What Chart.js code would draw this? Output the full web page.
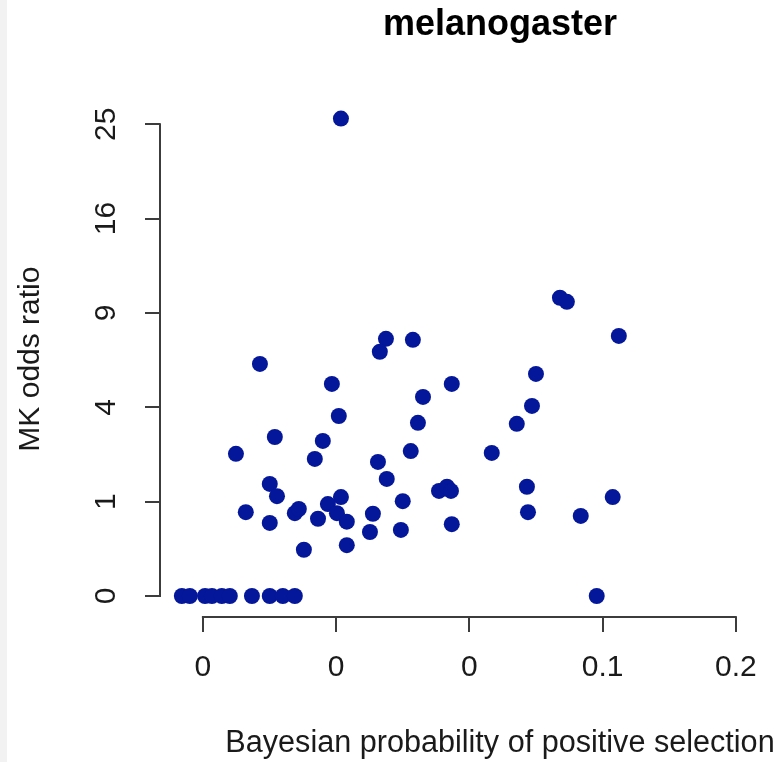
<!DOCTYPE html>
<html>
<head>
<meta charset="utf-8">
<script src="https://cdn.jsdelivr.net/npm/chart.js@4.4.1/dist/chart.umd.min.js"></script>
<style>
  html, body { margin: 0; padding: 0; overflow: hidden; }
  body { width: 783px; height: 762px; background: linear-gradient(to right, #f2f2f2 0, #f2f2f2 7px, #fff 7px); }
  canvas { display: block; }
</style>
</head>
<body>
<canvas id="mkChart" width="1000" height="762"></canvas>
<script>
// MK odds ratio vs Bayesian probability (melanogaster)
const probability = [
  0.0518, 0.1340, 0.1366, 0.1561, 0.0687, 0.0664, 0.0788, 0.0214, 0.0484, 0.0934,
  0.1250, 0.0826, 0.1235, 0.0510, 0.0807, 0.1178, 0.0270, 0.0450, 0.0124, 0.0420,
  0.0780, 0.1084, 0.0657, 0.0251, 0.0690, 0.0278, 0.0518, 0.1216, 0.0886, 0.0916,
  0.0931, 0.0161, 0.0345, 0.0360, 0.0469, 0.0503, 0.0750, 0.1538, 0.0251, 0.0432,
  0.0540, 0.0638, 0.1220, 0.1418, 0.0934, 0.0627, 0.0743, 0.0379, 0.0540,
  -0.0079, -0.0049, 0.0008, 0.0034, 0.0071, 0.0101, 0.0184, 0.0251, 0.0300, 0.0345,
  0.1478
];
const oddsRatio = [
  25.6, 9.99, 9.72, 7.60, 7.43, 6.70, 7.37, 6.05, 5.05, 5.05,
  5.54, 4.45, 4.06, 3.64, 3.37, 3.33, 2.84, 2.70, 2.27, 2.11,
  2.36, 2.30, 2.02, 1.41, 1.54, 1.12, 1.10, 1.34, 1.24, 1.34,
  1.24, 0.79, 0.77, 0.85, 0.95, 0.77, 1.01, 1.10, 0.60, 0.67,
  0.62, 0.76, 0.79, 0.72, 0.58, 0.46, 0.49, 0.24, 0.29,
  0, 0, 0, 0, 0, 0, 0, 0, 0, 0,
  0
];
const xTickValues = [0, 0.05, 0.1, 0.15, 0.2];
const xTickLabels = ['0', '0', '0', '0.1', '0.2'];
const yTickLabels = [0, 1, 4, 9, 16, 25];

const font = '"Liberation Sans", Arial, Helvetica, sans-serif';
const ink = '#1a1a1a';
const axisGrey = '#3c3c3c';

// y is drawn on a square-root scale, like the original plot
const points = probability.map((p, i) => ({ x: p, y: Math.sqrt(oddsRatio[i]) }));

// R style axes: the line only runs from the first to the last tick
const axisLines = {
  id: 'axisLines',
  afterDraw(chart) {
    const { ctx, chartArea, scales } = chart;
    const xs = scales.x, ys = scales.y;
    ctx.save();
    ctx.strokeStyle = axisGrey;
    ctx.lineWidth = 2;
    ctx.beginPath();
    ctx.moveTo(xs.getPixelForValue(xTickValues[0]) - 1, chartArea.bottom);
    ctx.lineTo(xs.getPixelForValue(xTickValues[xTickValues.length - 1]) + 1, chartArea.bottom);
    ctx.moveTo(chartArea.left, ys.getPixelForValue(Math.sqrt(yTickLabels[0])) + 1);
    ctx.lineTo(chartArea.left, ys.getPixelForValue(Math.sqrt(yTickLabels[yTickLabels.length - 1])) - 1);
    ctx.stroke();
    ctx.restore();
  }
};

const ctx = document.getElementById('mkChart').getContext('2d');
new Chart(ctx, {
  type: 'scatter',
  data: {
    datasets: [{
      data: points,
      backgroundColor: '#04179a',
      borderWidth: 0,
      pointRadius: 8,
      pointHoverRadius: 8
    }]
  },
  options: {
    responsive: false,
    animation: false,
    layout: { padding: 0 },
    plugins: {
      legend: { display: false },
      tooltip: { enabled: false },
      title: {
        display: true,
        text: 'melanogaster',
        color: '#000',
        font: { family: font, size: 36, weight: 'bold', lineHeight: 1.2 },
        padding: { top: 3, bottom: 55 }
      }
    },
    scales: {
      x: {
        type: 'linear',
        min: -0.0161,
        max: 0.2391,
        afterBuildTicks: s => { s.ticks = xTickValues.map(v => ({ value: v })); },
        afterFit: s => { s.height = 145; },
        grid: { drawOnChartArea: false, drawTicks: true, tickLength: 15, lineWidth: 2, color: axisGrey },
        border: { display: false },
        ticks: {
          color: ink,
          font: { family: font, size: 30 },
          padding: 18,
          maxRotation: 0,
          autoSkip: false,
          callback: (v, i) => xTickLabels[i]
        },
        title: {
          display: true,
          text: 'Bayesian probability of positive selection',
          color: ink,
          font: { family: font, size: 30.6, lineHeight: 1.2 },
          padding: { top: 0, bottom: 0 }
        }
      },
      y: {
        type: 'linear',
        min: -0.2225,
        max: 5.244,
        afterBuildTicks: s => { s.ticks = yTickLabels.map(v => ({ value: Math.sqrt(v) })); },
        afterFit: s => { s.width = 160; },
        grid: { drawOnChartArea: false, drawTicks: true, tickLength: 15, lineWidth: 2, color: axisGrey },
        border: { display: false },
        ticks: {
          color: ink,
          font: { family: font, size: 30 },
          padding: 22,
          minRotation: 90,
          maxRotation: 90,
          crossAlign: 'center',
          autoSkip: false,
          callback: (v, i) => String(yTickLabels[i])
        },
        title: {
          display: true,
          text: 'MK odds ratio',
          color: ink,
          font: { family: font, size: 30, lineHeight: 1.2 },
          padding: { top: 13, bottom: 0 }
        }
      },
      // empty right margin, the plot region runs past the window like the original
      yRight: {
        type: 'linear',
        position: 'right',
        afterFit: s => { s.width = 160; },
        grid: { display: false },
        border: { display: false },
        ticks: { display: false }
      }
    }
  },
  plugins: [axisLines]
});
</script>
</body>
</html>
